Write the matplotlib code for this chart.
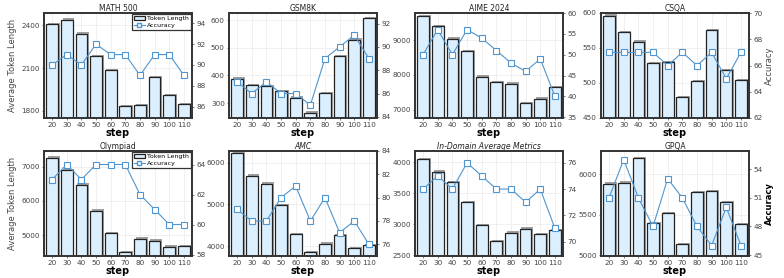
import numpy as np
import matplotlib
matplotlib.use("Agg")
import matplotlib.pyplot as plt
import matplotlib.patheffects as pe
from matplotlib.patches import Patch
from matplotlib.lines import Line2D

steps = [20, 30, 40, 50, 60, 70, 80, 90, 100, 110]

titles = ["MATH 500", "GSM8K", "AIME 2024", "CSQA",
          "Olympiad", "AMC", "In-Domain Average Metrics", "GPQA"]

math500_len = [2407, 2440, 2340, 2184, 2084, 1831, 1840, 2037, 1909, 1847]
math500_acc = [90, 91, 90, 92, 91, 91, 89, 91, 91, 89]
gsm8k_len = [388, 365, 362, 344, 320, 265, 335, 469, 530, 607]
gsm8k_acc = [87, 86, 87, 86, 86, 85, 89, 90, 91, 89]
aime_len = [9686, 9400, 9038, 8686, 7943, 7790, 7750, 7180, 7314, 7648]
aime_acc = [50, 56, 50, 56, 54, 51, 48, 46, 49, 40]
csqa_len = [596, 573, 559, 528, 530, 480, 503, 575, 518, 504]
csqa_acc = [67, 67, 67, 67, 66, 67, 66, 67, 65, 67]
olym_len = [7261, 6894, 6469, 5715, 5058, 4507, 4894, 4836, 4662, 4681]
olym_acc = [63, 64, 63, 64, 64, 64, 62, 61, 60, 60]
amc_len = [6222, 5690, 5492, 4976, 4278, 3857, 4056, 4262, 3952, 4024]
amc_acc = [79, 78, 78, 80, 81, 78, 80, 77, 78, 76]
indom_len = [4054, 3845, 3673, 3352, 2982, 2720, 2859, 2929, 2838, 2902]
indom_acc = [74, 75, 74, 76, 75, 74, 74, 73, 74, 71]
gpqa_len = [5881, 5893, 6197, 5393, 5516, 5131, 5779, 5791, 5652, 5381]
gpqa_acc = [51, 55, 51, 48, 53, 51, 48, 46, 50, 46]

lengths = [math500_len, gsm8k_len, aime_len, csqa_len, olym_len, amc_len, indom_len, gpqa_len]
accs = [math500_acc, gsm8k_acc, aime_acc, csqa_acc, olym_acc, amc_acc, indom_acc, gpqa_acc]

# axis ranges / ticks
left_lim = [(1750, 2486), (246, 626), (6760, 9780), (450, 600),
            (4390, 7454), (3762, 6278), (2485, 4182), (4988, 6287)]
right_lim = [(84.9, 95), (83.9, 92.9), (34.8, 60), (62, 70),
             (57.9, 64.9), (75, 84), (68.9, 76.9), (44.9, 55.9)]
left_ticks = [[1800, 2100, 2400], [300, 400, 500, 600], [7000, 8000, 9000],
              [450, 500, 550, 600], [5000, 6000, 7000], [4000, 5000, 6000],
              [2500, 3000, 3500, 4000], [5000, 5500, 6000]]
right_ticks = [[86, 88, 90, 92, 94], [84, 86, 88, 90, 92], [35, 40, 45, 50, 55, 60],
               [62, 64, 66, 68, 70], [58, 60, 62, 64], [76, 78, 80, 82, 84],
               [70, 72, 74, 76], [45, 48, 51, 54]]

bar_color = "#dcefff"
line_color = "#4f95cf"
tick_color = "#444444"

fig = plt.figure(figsize=(7.84, 2.78), dpi=100)
W, H = 784, 278
lefts = [44, 229, 415, 601]
tops = [13, 151]
aw, ah = 148, 105

x = np.arange(len(steps))
for i in range(8):
    r, c = divmod(i, 4)
    ax = fig.add_axes([lefts[c] / W, 1 - (tops[r] + ah) / H, aw / W, ah / H])
    ax.set_axisbelow(True)
    ax.grid(True, color="#eeeeee", lw=0.6)
    bars = ax.bar(x, lengths[i], width=0.8, color=bar_color, edgecolor="#222222",
                  lw=0.9, zorder=2)
    for b in bars:
        b.set_path_effects([pe.SimplePatchShadow(offset=(1.2, 1.0), shadow_rgbFace="#888888", alpha=0.8),
                            pe.Normal()])
    ax.set_xlim(-0.55, 9.55)
    ax.set_ylim(*left_lim[i])
    ax.set_yticks(left_ticks[i])
    ax.set_xticks(x)
    ax.set_xticklabels([str(s) for s in steps])
    ax.tick_params(labelsize=5.2, colors=tick_color, length=1.5, width=0.5, pad=1.5)
    for sp in ax.spines.values():
        sp.set_linewidth(1.2)
        sp.set_color("#333333")
    ax.set_title(titles[i], fontsize=5.5, pad=1.5, color="#222222",
                 style="italic" if titles[i] in ("AMC", "In-Domain Average Metrics") else "normal")
    ax.set_xlabel("step", fontsize=7, fontweight="bold", labelpad=0)
    if c == 0:
        ax.set_ylabel("Average Token Length", fontsize=6, color=tick_color, labelpad=3)

    ax2 = ax.twinx()
    ax2.plot(x, accs[i], color=line_color, lw=0.8, marker="s", ms=3.8,
             mfc="white", mec=line_color, mew=0.8, zorder=3)
    ax2.set_ylim(*right_lim[i])
    ax2.set_yticks(right_ticks[i])
    ax2.tick_params(labelsize=5.2, colors=tick_color, length=1.5, width=0.5, pad=1.5)
    for sp in ax2.spines.values():
        sp.set_linewidth(1.2)
        sp.set_color("#333333")
    if i == 3:
        ax2.set_ylabel("Accuracy", fontsize=6, color=tick_color, labelpad=2)
    if i == 7:
        ax2.set_ylabel("Accuracy", fontsize=6, fontweight="bold", labelpad=2)

    if c == 0:
        handles = [Patch(facecolor=bar_color, edgecolor="#222222", lw=0.9),
                   Line2D([], [], color=line_color, lw=0.8, marker="s", ms=3.5,
                          mfc="white", mec=line_color)]
        leg = ax2.legend(handles, ["Token Length", "Accuracy"], loc="upper right",
                         fontsize=4.5, fancybox=False, framealpha=1, edgecolor="#333333",
                         borderpad=0.3, handlelength=1.8, labelspacing=0.2,
                         borderaxespad=0.15, handletextpad=0.4)
        leg.get_frame().set_linewidth(0.9)

fig.savefig("out.png", dpi=100)
